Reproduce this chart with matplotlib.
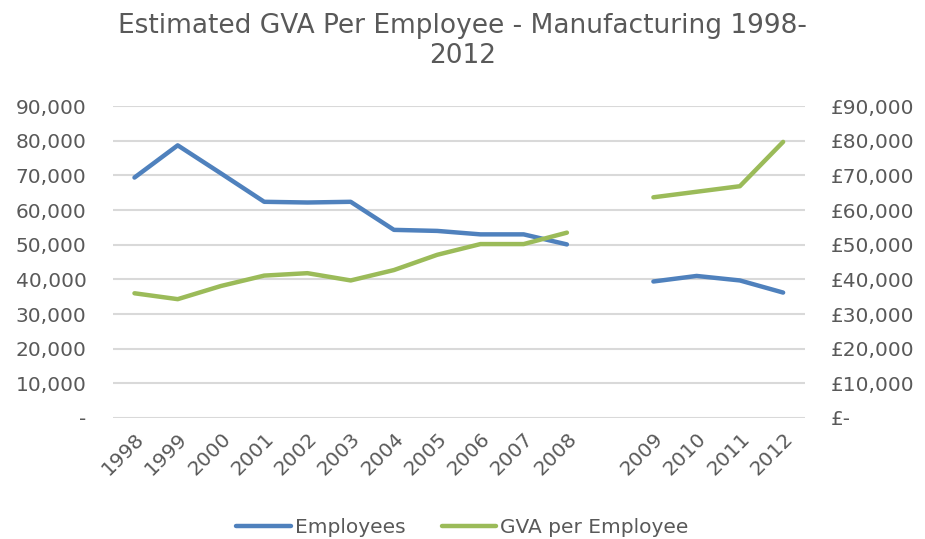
import numpy as np
import matplotlib
matplotlib.use("Agg")
import matplotlib.pyplot as plt
from matplotlib.ticker import FuncFormatter

# data (blank category between 2008 and 2009)
years = ["1998", "1999", "2000", "2001", "2002", "2003", "2004", "2005",
         "2006", "2007", "2008", "", "2009", "2010", "2011", "2012"]
employees = [69400, 78700, 70600, 62400, 62200, 62400, 54300, 54000,
             53000, 53000, 50100, np.nan, 39400, 41000, 39700, 36200]
gva_per_employee = [36000, 34300, 38100, 41100, 41800, 39700, 42700, 47100,
                    50200, 50200, 53500, np.nan, 63700, 65300, 66900, 79700]

blue = "#4F81BD"
green = "#9BBB59"
grey = "#595959"

plt.rcParams["font.family"] = ["DejaVu Sans"]

fig = plt.figure(figsize=(9.25, 5.39), dpi=100)
ax = fig.add_axes([0.122, 0.2245, 0.748, 0.5785])
ax2 = ax.twinx()

x = np.arange(len(years))
l1, = ax.plot(x, employees, color=blue, lw=3.2, solid_capstyle="round",
              solid_joinstyle="round", label="Employees")
l2, = ax2.plot(x, gva_per_employee, color=green, lw=3.2, solid_capstyle="round",
               solid_joinstyle="round", label="GVA per Employee")

ax.set_xlim(-0.5, len(years) - 0.5)
for a in (ax, ax2):
    a.set_ylim(0, 90000)
    a.set_yticks(np.arange(0, 90001, 10000))
    for s in a.spines.values():
        s.set_visible(False)
    a.tick_params(axis="y", length=0, labelsize=14.5, labelcolor=grey, pad=19)

ax.yaxis.set_major_formatter(FuncFormatter(lambda v, p: "-" if v == 0 else f"{v:,.0f}"))
ax2.yaxis.set_major_formatter(FuncFormatter(lambda v, p: "£-" if v == 0 else f"£{v:,.0f}"))
ax.yaxis.grid(True, color="#D9D9D9", lw=1.5)
ax.set_axisbelow(True)

ax.set_xticks(x)
ax.set_xticklabels(years, rotation=45, ha="right", rotation_mode="anchor")
ax.tick_params(axis="x", length=0, labelsize=14.5, labelcolor=grey, pad=8)

fig.suptitle("Estimated GVA Per Employee - Manufacturing 1998-\n2012",
             fontsize=19, color=grey, y=0.975, linespacing=1.2)

leg = fig.legend(handles=[l1, l2], loc="lower center", ncol=2, frameon=False,
                 fontsize=14.5, bbox_to_anchor=(0.5, -0.03), handlelength=2.7,
                 handletextpad=0.2, columnspacing=1.8)
for t in leg.get_texts():
    t.set_color(grey)

fig.savefig("out.png", dpi=100)
